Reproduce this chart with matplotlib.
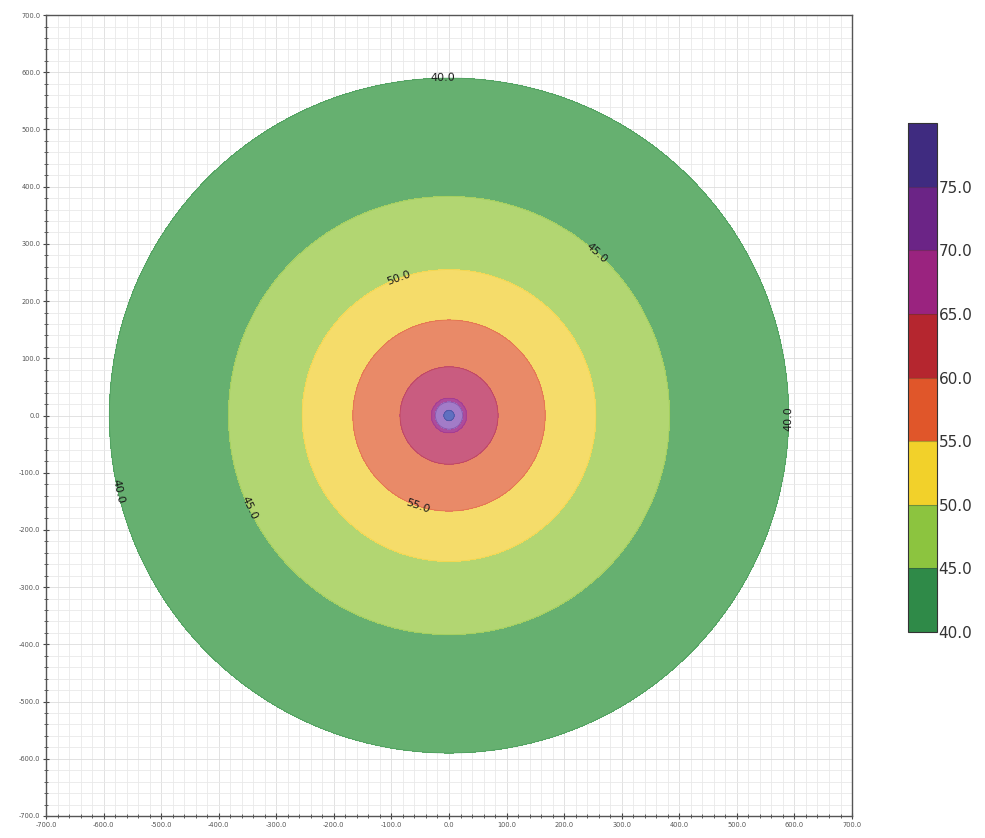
import numpy as np
import matplotlib
matplotlib.use('Agg')
import matplotlib.pyplot as plt
from matplotlib.colors import ListedColormap, BoundaryNorm
from matplotlib.cm import ScalarMappable
from matplotlib.ticker import MultipleLocator, FormatStrFormatter

# contour levels and the radius (m) at which each level sits, centre outwards
levels = [40, 45, 50, 55, 60, 65, 70, 75, 80]
profile_r = [0, 9, 24, 30, 85, 167, 255, 383, 590, 1000]
profile_v = [79, 75, 70, 65, 60, 55, 50, 45, 40, 30]

# legend colours and the washed-out versions used on the map
band_colors = ['#2f8a48', '#8cc43f', '#f2d12a', '#e0562a',
               '#b5262f', '#9a237f', '#6b2486', '#3f2b80']
fill_colors = ['#66b070', '#b2d672', '#f5dc6a', '#e98a68',
               '#c95c80', '#ad4c9c', '#a27cc8', '#5f70c0']

# where the level labels sit: (level, angle in degrees)
label_spots = [(40, 91), (45, 48), (50, 110), (55, -109),
               (40, -0.5), (40, 193), (45, 205)]

norm = BoundaryNorm(levels, len(band_colors))
fill_cmap = ListedColormap(fill_colors)
band_cmap = ListedColormap(band_colors)

x = np.linspace(-700, 700, 701)
X, Y = np.meshgrid(x, x)
R = np.hypot(X, Y)
Z = np.interp(R, profile_r, profile_v)

fig = plt.figure(figsize=(9.85, 8.38), dpi=100)
ax = fig.add_axes([0.0467, 0.0263, 0.8183, 0.9557])

ax.set_xlim(-700, 700)
ax.set_ylim(-700, 700)
ax.xaxis.set_major_locator(MultipleLocator(100))
ax.yaxis.set_major_locator(MultipleLocator(100))
ax.xaxis.set_minor_locator(MultipleLocator(20))
ax.yaxis.set_minor_locator(MultipleLocator(20))
ax.xaxis.set_major_formatter(FormatStrFormatter('%.1f'))
ax.yaxis.set_major_formatter(FormatStrFormatter('%.1f'))
ax.grid(which='major', color='#dddddd', linewidth=0.6)
ax.grid(which='minor', color='#e9e9e9', linewidth=0.6)
ax.set_axisbelow(True)
ax.tick_params(which='major', direction='inout', length=5, width=0.8,
               labelsize=4.8, labelcolor='#555555', color='#444444', pad=1.5)
ax.tick_params(which='minor', direction='inout', length=3, width=0.6,
               color='#444444')
for s in ax.spines.values():
    s.set_color('#555555')
    s.set_linewidth(1.0)

cf = ax.contourf(X, Y, Z, levels=levels, cmap=fill_cmap, norm=norm)
cl = ax.contour(X, Y, Z, levels=levels[:-1], cmap=band_cmap, norm=norm,
                linewidths=0.6, alpha=0.45)

spots = []
for lev, ang in label_spots:
    rad = np.interp(lev, profile_v[::-1], profile_r[::-1])
    a = np.deg2rad(ang)
    spots.append((rad * np.cos(a), rad * np.sin(a)))
txts = ax.clabel(cl, manual=spots, inline=False, fmt='%.1f', fontsize=8,
                 colors='#1a1a1a')
for t in txts:
    t.set_alpha(1)

cax = fig.add_axes([0.922, 0.246, 0.0294, 0.607])
sm = ScalarMappable(norm=norm, cmap=band_cmap)
cb = fig.colorbar(sm, cax=cax, ticks=levels[:-1], drawedges=True)
cb.ax.minorticks_off()
cb.ax.yaxis.set_major_formatter(FormatStrFormatter('%.1f'))
cb.ax.tick_params(which='both', length=0, labelsize=11,
                  labelcolor='#333333', pad=1)
cb.outline.set_edgecolor('#333333')
cb.outline.set_linewidth(0.8)
cb.dividers.set_color('#333333')
cb.dividers.set_alpha(0.35)
cb.dividers.set_linewidth(0.8)

fig.savefig('out.png', dpi=100)
